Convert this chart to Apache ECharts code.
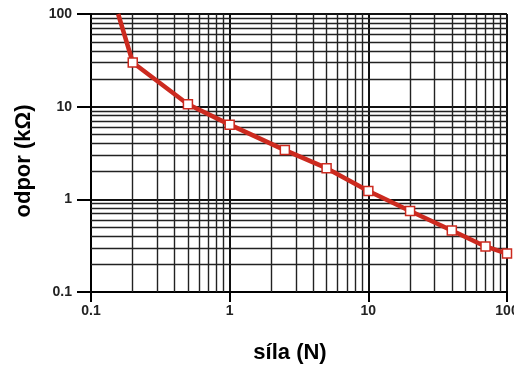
<!DOCTYPE html>
<html>
<head>
<meta charset="utf-8">
<script src="https://cdn.jsdelivr.net/npm/echarts@6/dist/echarts.min.js"></script>
<style>
  html, body { margin: 0; padding: 0; background: #fff; }
  #chart { width: 514px; height: 369px; }
</style>
</head>
<body>
<div id="chart"></div>
<script>
// síla (N) a odpor (kΩ)
const force = [0.157, 0.2, 0.5, 1, 2.5, 5, 10, 20, 40, 70, 100];
const resistance = [100, 30, 10.6, 6.4, 3.4, 2.17, 1.23, 0.75, 0.46, 0.31, 0.26];

// vedlejší čáry mřížky (2..9 v každé dekádě)
const minorX = [0.2, 0.3, 0.4, 0.5, 0.6, 0.7, 0.8, 0.9, 2, 3, 4, 5, 6, 7, 8, 9, 20, 30, 40, 50, 60, 70, 80, 90];
const minorY = [0.2, 0.3, 0.4, 0.5, 0.6, 0.7, 0.8, 0.9, 2, 3, 4, 5, 6, 7, 8, 9, 20, 30, 40, 50, 60, 70, 80, 90];

const red = '#cc2a1f';
const font = 'Liberation Sans, Arial, sans-serif';

let chart = echarts.init(document.getElementById('chart'));

let points = force.map((f, i) => {
  let p = { value: [f, resistance[i]] };
  if (i === 0) p.symbol = 'none';
  return p;
});

let gridLines = minorX.map(v => ({ xAxis: v })).concat(minorY.map(v => ({ yAxis: v })));

let labelStyle = {
  color: '#222',
  fontFamily: font,
  fontWeight: 'bold',
  fontSize: 14,
  formatter: v => String(v)
};
let nameStyle = { color: '#000', fontFamily: font, fontWeight: 'bold', fontSize: 22 };

let option = {
  animation: false,
  grid: { left: 91, right: 7, top: 14, bottom: 77, outerBoundsMode: 'none' },
  xAxis: {
    type: 'log',
    min: 0.1,
    max: 100,
    name: 'síla (N)',
    nameLocation: 'middle',
    nameGap: 50,
    nameTextStyle: Object.assign({ padding: [0, 18, 0, 0] }, nameStyle),
    axisLine: { show: true, lineStyle: { color: '#000', width: 2 } },
    axisTick: { show: true, length: 10, lineStyle: { color: '#000', width: 2 } },
    splitLine: { show: true, lineStyle: { color: '#111', width: 2 } },
    axisLabel: Object.assign({ margin: 12 }, labelStyle)
  },
  yAxis: {
    type: 'log',
    min: 0.1,
    max: 100,
    name: 'odpor (kΩ)',
    nameLocation: 'middle',
    nameGap: 56,
    nameTextStyle: Object.assign({ padding: [0, 16, 0, 0] }, nameStyle),
    axisLine: { show: true, lineStyle: { color: '#000', width: 2 } },
    axisTick: { show: true, length: 14, lineStyle: { color: '#000', width: 2 } },
    splitLine: { show: true, lineStyle: { color: '#111', width: 2 } },
    axisLabel: Object.assign({ margin: 19 }, labelStyle)
  },
  series: [
    {
      type: 'line',
      data: [],
      silent: true,
      markLine: {
        silent: true,
        symbol: 'none',
        label: { show: false },
        lineStyle: { type: 'solid', color: '#222', width: 1.4 },
        data: gridLines
      }
    },
    {
      type: 'line',
      data: points,
      symbol: 'rect',
      symbolSize: 9,
      lineStyle: { color: red, width: 4.5 },
      itemStyle: { color: '#fff', borderColor: red, borderWidth: 1.5 },
      z: 5
    }
  ]
};

chart.setOption(option);
</script>
</body>
</html>
